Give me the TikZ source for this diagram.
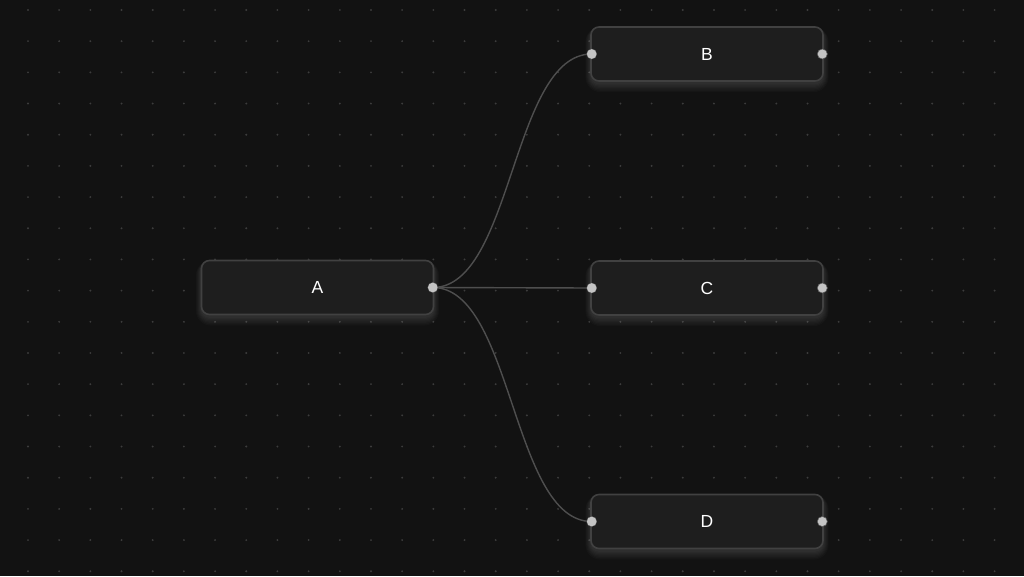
\documentclass[tikz,border=0pt]{standalone}
\usepackage{fontspec}
\setmainfont{Liberation Sans}
\definecolor{bg}{HTML}{121212}
\definecolor{nodefill}{HTML}{1E1E1E}
\definecolor{nodeborder}{HTML}{414141}
\definecolor{dotc}{HTML}{3C3C3C}
\definecolor{edgec}{HTML}{4E4E4E}
\definecolor{handlec}{HTML}{C4C4C4}
\begin{document}
\begin{tikzpicture}[x=1pt,y=-1pt,
  flownode/.style={draw=nodeborder, line width=1.6pt, fill=nodefill, rounded corners=8pt,
    minimum width=232pt, minimum height=54pt, inner sep=0pt, text=white,
    font=\fontsize{17.5}{20}\selectfont},
  handle/.style={circle, fill=handlec, draw=bg!60!handlec, line width=0.5pt, minimum size=10pt, inner sep=0pt},
  edge/.style={draw=edgec, line width=1.4pt}]
\useasboundingbox (0,0) rectangle (1024,576);
\fill[bg] (0,0) rectangle (1024,576);
% dot grid
\foreach \i in {0,...,32}{
  \foreach \j in {0,...,18}{
    \fill[dotc] ({28+31.18*\i},{10+31.18*\j}) circle (1.05pt);
  }
}
% glows
\foreach \cx/\cy in {317.5/287.5,707/54,707/288,707/521.5}{
  \foreach \k in {1,...,7}{
    \fill[white, opacity=0.02, rounded corners={8+\k}] ({\cx-116-\k*0.8},{\cy-27-\k*0.3+2}) rectangle ({\cx+116+\k*0.8},{\cy+27+\k*1.3+2});
  }
}
\node[flownode] (A) at (317.5,287.5) {A};
\node[flownode] (B) at (707,54) {B};
\node[flownode] (C) at (707,288) {C};
\node[flownode] (D) at (707,521.5) {D};
% handles
\node[handle] (Aout) at ([xshift=-1.5pt]A.east) {};
\node[handle] (Bin) at ([xshift=1.5pt]B.west) {};
\node[handle] (Bout) at ([xshift=-1.5pt]B.east) {};
\node[handle] (Cin) at ([xshift=1.5pt]C.west) {};
\node[handle] (Cout) at ([xshift=-1.5pt]C.east) {};
\node[handle] (Din) at ([xshift=1.5pt]D.west) {};
\node[handle] (Dout) at ([xshift=-1.5pt]D.east) {};
% edges
\draw[edge] (Aout.center) .. controls ++(80,0) and ++(-80,0) .. (Bin.center);
\draw[edge] (Aout.center) -- (Cin.center);
\draw[edge] (Aout.center) .. controls ++(80,0) and ++(-80,0) .. (Din.center);
% redraw handles on top of edges
\foreach \h in {Aout,Bin,Cin,Din}{
  \fill[handlec] (\h.center) circle (4.7pt);
}
\end{tikzpicture}
\end{document}
